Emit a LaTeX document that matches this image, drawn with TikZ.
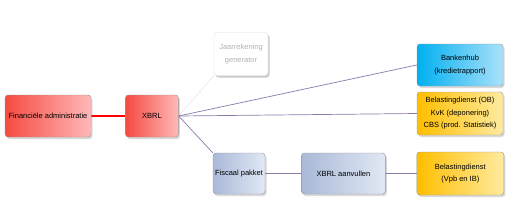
\documentclass[tikz,border=0pt]{standalone}
\usepackage{fontspec}
\setmainfont{Liberation Sans}
\usepackage{xcolor}
\usepackage{tikz}
\usetikzlibrary{positioning, shadows, shadings, backgrounds}
\definecolor{rood}{RGB}{245,75,65}
\definecolor{roze}{RGB}{255,185,185}
\definecolor{cyaan}{RGB}{0,176,240}
\definecolor{lichtblauw}{RGB}{170,225,250}
\definecolor{oranje}{RGB}{255,190,0}
\definecolor{lichtgeel}{RGB}{255,235,160}
\definecolor{grijsblauw}{RGB}{170,185,215}
\definecolor{lichtgrijsblauw}{RGB}{225,232,245}
\definecolor{lijn}{RGB}{140,120,170}
\definecolor{rand}{RGB}{150,150,150}

\begin{document}
\begin{tikzpicture}[
        x=1pt, y=-1pt,
        node distance=30pt and 34pt,
        block/.style={rectangle, draw=rand, rounded corners=3pt, align=center, minimum height=42pt,
            font=\fontsize{7.5}{12.5}\selectfont, inner sep=1pt,
            drop shadow={shadow xshift=1.5pt, shadow yshift=-2pt, opacity=0.3}},
        rood/.style={block, shading angle=60, left color=rood, right color=roze},
        blauw/.style={block, left color=cyaan, right color=lichtblauw},
        geel/.style={block, left color=oranje, right color=lichtgeel},
        grijs/.style={block, left color=grijsblauw, right color=lichtgrijsblauw},
        vaag/.style={block, draw=black!12, fill=white, text=black!30,
            drop shadow={shadow xshift=1.5pt, shadow yshift=-2pt, opacity=0.15}},
        link/.style={lijn, line width=0.7pt},
        rodelink/.style={red, line width=2pt}
    ]
        \useasboundingbox (0,0) rectangle (518,218);

        \node[rood, minimum width=86pt] (fin) at (48,116) {Financiële administratie};
        \node[rood, minimum width=53pt, right=34pt of fin] (xbrl) {XBRL};

        \node[vaag, minimum width=54pt, minimum height=43pt] (jaar) at (241,54) {Jaarrekening\\generator};

        \node[blauw, minimum width=86pt] (bank) at (460,65) {Bankenhub\\(kredietrapport)};
        \node[geel, minimum width=86pt, minimum height=43pt] (ob) at (460,113.5) {Belastingdienst (OB)\\KvK (deponering)\\CBS (prod. Statistiek)};

        \node[grijs, minimum width=52pt, minimum height=41pt] (fisc) at (239,173.5) {Fiscaal pakket};
        \node[grijs, minimum width=84pt, minimum height=41pt, right=36pt of fisc] (aanv) {XBRL aanvullen};
        \node[geel, minimum width=87pt, minimum height=43pt, right=31pt of aanv] (vpb) {Belastingdienst\\(Vpb en IB)};

        \begin{scope}[on background layer]
            \draw[rodelink] (fin) -- (xbrl);
            \draw[black!10, line width=0.5pt] (xbrl.east) -- (jaar.south west);
            \draw[link] (xbrl.east) -- (bank.west);
            \draw[link] (xbrl.east) -- (ob.west);
            \draw[link] (xbrl.east) -- (fisc.north west);
            \draw[link] (fisc) -- (aanv);
            \draw[link] (aanv) -- (vpb);
        \end{scope}
    \end{tikzpicture}
\end{document}
